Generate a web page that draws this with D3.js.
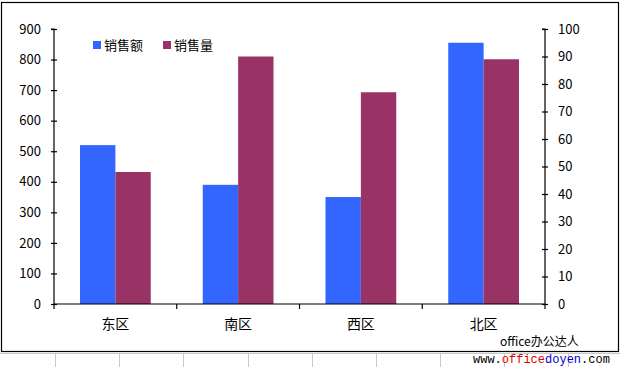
<!DOCTYPE html>
<html>
<head>
<meta charset="utf-8">
<script src="https://cdn.jsdelivr.net/npm/d3@7"></script>
<style>
  body { margin: 0; background: #fff; }
  svg { display: block; }
</style>
</head>
<body>
<svg id="mainsvg" width="620" height="367"></svg>
<script>
// data
var regions = ["东区", "南区", "西区", "北区"];
var salesAmount = [520, 390, 350, 855];   // 销售额, left axis
var salesVolume = [48, 90, 77, 89];       // 销售量, right axis
var seriesNames = ["销售额", "销售量"];
var leftTicks = [0, 100, 200, 300, 400, 500, 600, 700, 800, 900];
var rightTicks = [0, 10, 20, 30, 40, 50, 60, 70, 80, 90, 100];
var colors = ["#3366ff", "#993366"];

(function () {
  var svg = d3.select("#mainsvg");
  var font = "'Noto Sans CJK SC', 'DejaVu Sans', sans-serif";

  // sheet grid under the chart
  var grid = svg.append("g");
  grid.append("line").attr("x1", 0).attr("x2", 620).attr("y1", 353.5).attr("y2", 353.5)
    .attr("stroke", "#c8c8c8");
  [55, 119, 183, 248, 312, 376, 440, 504, 568].forEach(function (gx) {
    grid.append("line").attr("x1", gx + 0.5).attr("x2", gx + 0.5).attr("y1", 353).attr("y2", 367)
      .attr("stroke", "#c8c8c8");
  });

  // chart frame
  svg.append("rect").attr("x", 1.5).attr("y", 2.5).attr("width", 617).attr("height", 349)
    .attr("fill", "#fff").attr("stroke", "#000").attr("stroke-width", 1.2);

  var pLeft = 54, pRight = 545, pTop = 29, pBottom = 304;

  var x = d3.scaleBand().domain(regions).range([pLeft, pRight]).paddingInner(0).paddingOuter(0);
  var inner = d3.scaleBand().domain([0, 1]).range([26, x.bandwidth() - 26]);
  var yL = d3.scaleLinear().domain([0, 900]).range([pBottom, pTop]);
  var yR = d3.scaleLinear().domain([0, 100]).range([pBottom, pTop]);

  // bars
  var data = regions.map(function (r, i) {
    return [
      { region: r, s: 0, v: salesAmount[i], y: yL },
      { region: r, s: 1, v: salesVolume[i], y: yR }
    ];
  });
  svg.append("g").selectAll("g").data(data).enter().append("g")
    .selectAll("rect").data(function (d) { return d; }).enter().append("rect")
    .attr("x", function (d) { return x(d.region) + inner(d.s); })
    .attr("width", inner.bandwidth())
    .attr("y", function (d) { return d.y(d.v); })
    .attr("height", function (d) { return pBottom - d.y(d.v); })
    .attr("fill", function (d) { return colors[d.s]; });

  // axes
  var axL = svg.append("g").attr("transform", "translate(" + pLeft + ",0)")
    .call(d3.axisLeft(yL).tickValues(leftTicks).tickSize(5).tickPadding(8));
  var axR = svg.append("g").attr("transform", "translate(" + pRight + ",0)")
    .call(d3.axisRight(yR).tickValues(rightTicks).tickSize(5).tickPadding(8));
  var axX = svg.append("g").attr("transform", "translate(0," + pBottom + ")")
    .call(d3.axisBottom(x).tickSize(0).tickPadding(15));
  // category dividers
  svg.append("g").selectAll("line").data(regions.concat([null])).enter().append("line")
    .attr("x1", function (d, i) { return pLeft + i * x.bandwidth(); })
    .attr("x2", function (d, i) { return pLeft + i * x.bandwidth(); })
    .attr("y1", pBottom).attr("y2", pBottom + 5)
    .attr("stroke", "#000").attr("stroke-width", 1.2);

  [axL, axR, axX].forEach(function (a) {
    a.selectAll("path, line").attr("stroke", "#000").attr("stroke-width", 1.2);
    a.selectAll("text").attr("fill", "#000").style("font-family", font).style("font-size", "13px");
  });
  axL.selectAll(".tick line").attr("x1", -3).attr("x2", 3);
  axR.selectAll(".tick line").attr("x1", -3).attr("x2", 3);
  axL.select(".domain").attr("d", "M-3," + pTop + "H0V" + pBottom);
  axR.select(".domain").attr("d", "M-3," + pTop + "H0V" + pBottom);
  axX.select(".domain").attr("d", "M" + pLeft + ",0H" + pRight);
  axX.selectAll("text").style("font-size", "14px");

  // legend
  var legend = svg.append("g").attr("transform", "translate(93,45)");
  seriesNames.forEach(function (n, i) {
    var g = legend.append("g").attr("transform", "translate(" + i * 70 + ",0)");
    g.append("rect").attr("x", 0).attr("y", -4).attr("width", 8).attr("height", 8).attr("fill", colors[i]);
    g.append("text").attr("x", 11).attr("y", 5).text(n)
      .style("font-family", font).style("font-size", "13px");
  });

  // watermark
  svg.append("text").attr("x", 500).attr("y", 346).text("office办公达人")
    .style("font-family", font).style("font-size", "12px");
  var w = svg.append("text").attr("x", 473).attr("y", 363)
    .style("font-family", "'Liberation Mono', monospace").style("font-size", "12px");
  w.append("tspan").attr("fill", "#000").text("www.");
  w.append("tspan").attr("fill", "#e00000").text("office");
  w.append("tspan").attr("fill", "#0000cc").text("doyen");
  w.append("tspan").attr("fill", "#000").text(".com");
})();
</script>
</body>
</html>
